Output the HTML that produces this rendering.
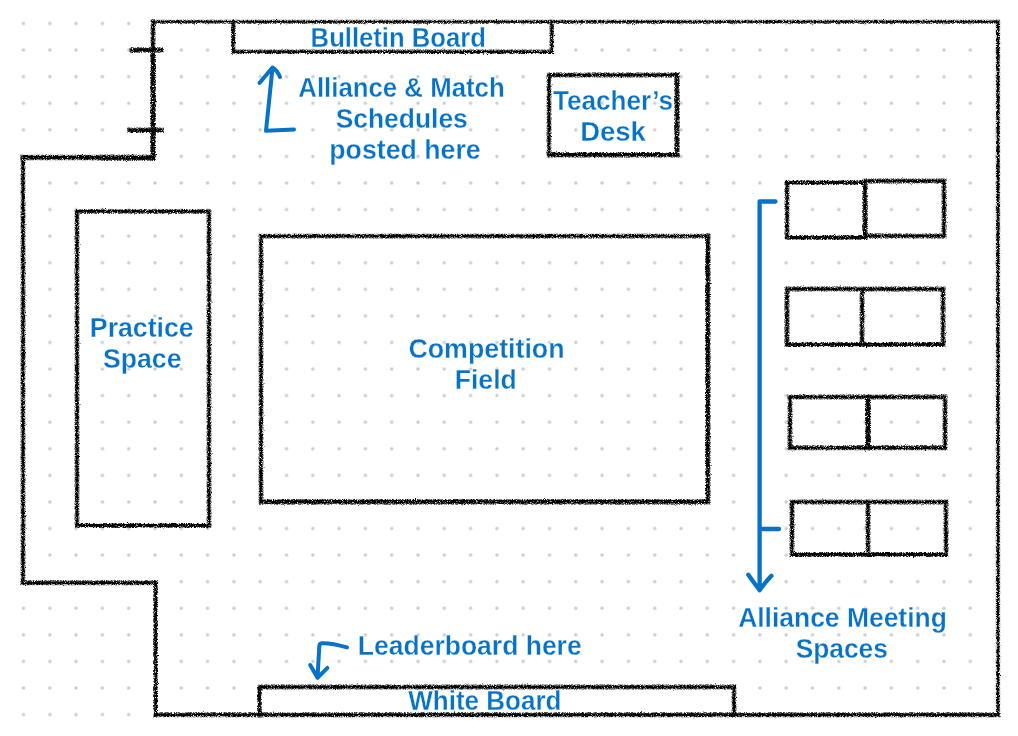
<!DOCTYPE html>
<html><head><meta charset="utf-8">
<style>
html,body{margin:0;padding:0;background:#fff;width:1018px;height:736px;overflow:hidden}
svg{display:block}
.t{font-family:"Liberation Sans",sans-serif;font-weight:bold;font-size:27.3px;fill:#0672c8;text-anchor:middle;stroke:#fff;stroke-width:0.3px}
</style></head><body>
<svg width="1018" height="736" viewBox="0 0 1018 736">
<defs>
<pattern id="dots" x="23.5" y="23.5" width="26.3" height="26.58" patternUnits="userSpaceOnUse">
<circle cx="0" cy="0" r="1.7" fill="#c9cbce"/><circle cx="26.3" cy="0" r="1.7" fill="#c9cbce"/><circle cx="0" cy="26.58" r="1.7" fill="#c9cbce"/><circle cx="26.3" cy="26.58" r="1.7" fill="#c9cbce"/>
</pattern>
<filter id="fuzz" x="0" y="0" width="1018" height="736" filterUnits="userSpaceOnUse">
<feTurbulence type="fractalNoise" baseFrequency="1.1" numOctaves="2" seed="11" result="n"/>
<feDisplacementMap in="SourceGraphic" in2="n" scale="2" xChannelSelector="R" yChannelSelector="G" result="d"/>
<feColorMatrix in="n" type="matrix" values="0 0 0 0 0 0 0 0 0 0 0 0 0 0 0 -4 0 0 0 2.5" result="m"/>
<feComposite in="d" in2="m" operator="in"/>
<feGaussianBlur stdDeviation="0.5"/>
</filter>
<filter id="core" x="0" y="0" width="1018" height="736" filterUnits="userSpaceOnUse">
<feTurbulence type="fractalNoise" baseFrequency="1.2" numOctaves="2" seed="5" result="n"/>
<feDisplacementMap in="SourceGraphic" in2="n" scale="1.2" xChannelSelector="R" yChannelSelector="G" result="d"/>
<feColorMatrix in="n" type="matrix" values="0 0 0 0 0 0 0 0 0 0 0 0 0 0 0 -5 0 0 0 3.7" result="m"/>
<feComposite in="d" in2="m" operator="in"/>
<feGaussianBlur stdDeviation="0.4"/>
</filter>
</defs>
<rect x="0" y="0" width="1018" height="736" fill="url(#dots)"/>
<g fill="none" stroke="#000" stroke-linejoin="miter" stroke-linecap="square" filter="url(#fuzz)">
<path d="M153,21.8 H998" stroke-width="3.90"/>
<path d="M998,21.8 V714.8" stroke-width="4.30"/>
<path d="M998,714.8 H155.6" stroke-width="5.00"/>
<path d="M155.6,714.8 V582.8" stroke-width="4.80"/>
<path d="M155.6,582.8 H23" stroke-width="5.00"/>
<path d="M23,582.8 V157.5" stroke-width="4.80"/>
<path d="M23,157.5 H153" stroke-width="5.40"/>
<path d="M100,157.8 H153" stroke-width="6.00"/>
<path d="M153,157.5 V21.8" stroke-width="5.00"/>
<path d="M153,50 V157.5" stroke-width="5.60"/>
<path d="M132,50 H161" stroke-width="5.60"/>
<path d="M130,130.3 H161" stroke-width="5.60"/>
<path d="M233.3,22 V51.8 H551.8 V22" stroke-width="4.60"/>
<path d="M549,75 H677 V154.7 H549 Z" stroke-width="4.80"/>
<path d="M549,154.7 H677 V75" stroke-width="5.40"/>
<path d="M77,211.3 H209 V525.5 H77 Z" stroke-width="4.80"/>
<path d="M261,236.2 H707.8 V501.8 H261 Z" stroke-width="4.80"/>
<path d="M707.8,236.2 V501.8 H261" stroke-width="5.40"/>
<path d="M787,182.5 H865 V237.4 H787 Z" stroke-width="5.00"/>
<path d="M865,181 H944 V236 H865 Z" stroke-width="5.00"/>
<path d="M787,289 H943 V344.5 H787 Z M862,289 V344.5" stroke-width="5.00"/>
<path d="M790,397 H945 V447.7 H790 Z M868,397 V447.7" stroke-width="5.00"/>
<path d="M868,397 V447.7" stroke-width="5.80"/>
<path d="M792,502 H946 V554.5 H792 Z M868,502 V554.5" stroke-width="5.00"/>
<path d="M259.4,715 V687 H734 V715" stroke-width="4.80"/>
</g>
<g fill="none" stroke="#000" stroke-linejoin="miter" stroke-linecap="square" filter="url(#core)">
<path d="M153,21.8 H998" stroke-width="1.90"/>
<path d="M998,21.8 V714.8" stroke-width="2.30"/>
<path d="M998,714.8 H155.6" stroke-width="3.00"/>
<path d="M155.6,714.8 V582.8" stroke-width="2.80"/>
<path d="M155.6,582.8 H23" stroke-width="3.00"/>
<path d="M23,582.8 V157.5" stroke-width="2.80"/>
<path d="M23,157.5 H153" stroke-width="3.40"/>
<path d="M100,157.8 H153" stroke-width="4.00"/>
<path d="M153,157.5 V21.8" stroke-width="3.00"/>
<path d="M153,50 V157.5" stroke-width="3.60"/>
<path d="M132,50 H161" stroke-width="3.60"/>
<path d="M130,130.3 H161" stroke-width="3.60"/>
<path d="M233.3,22 V51.8 H551.8 V22" stroke-width="2.60"/>
<path d="M549,75 H677 V154.7 H549 Z" stroke-width="2.80"/>
<path d="M549,154.7 H677 V75" stroke-width="3.40"/>
<path d="M77,211.3 H209 V525.5 H77 Z" stroke-width="2.80"/>
<path d="M261,236.2 H707.8 V501.8 H261 Z" stroke-width="2.80"/>
<path d="M707.8,236.2 V501.8 H261" stroke-width="3.40"/>
<path d="M787,182.5 H865 V237.4 H787 Z" stroke-width="3.00"/>
<path d="M865,181 H944 V236 H865 Z" stroke-width="3.00"/>
<path d="M787,289 H943 V344.5 H787 Z M862,289 V344.5" stroke-width="3.00"/>
<path d="M790,397 H945 V447.7 H790 Z M868,397 V447.7" stroke-width="3.00"/>
<path d="M868,397 V447.7" stroke-width="3.80"/>
<path d="M792,502 H946 V554.5 H792 Z M868,502 V554.5" stroke-width="3.00"/>
<path d="M259.4,715 V687 H734 V715" stroke-width="2.80"/>
</g>
<g fill="none" stroke="#0672c8" stroke-width="4.3" stroke-linejoin="round" stroke-linecap="round">
<path d="M775.5,201.5 H759.6 V590 M759.6,529 H779 M748.3,574.7 Q753.5,582 759.6,590.3 Q765,582.5 771.4,575.8"/>
<path stroke-width="4" d="M294,129.5 L266,130.8 L272.5,68 M259.5,83 L272.5,67.5 Q277,70 280,77"/>
<path stroke-width="4" d="M347,647.4 C337,644.5 328,643 322,643.2 Q319.5,643.4 319.3,646 L317.5,677.8 M310.2,665 L317.5,677.8 L327.4,667.8"/>
</g>
<g style="will-change:transform">
<text class="t" x="398.25" y="47.0" textLength="175.28" lengthAdjust="spacingAndGlyphs">Bulletin Board</text>
<text class="t" x="401.50" y="97.0" textLength="206.30" lengthAdjust="spacingAndGlyphs">Alliance &amp; Match</text>
<text class="t" x="401.75" y="128.0" textLength="132.07" lengthAdjust="spacingAndGlyphs">Schedules</text>
<text class="t" x="405.00" y="159.0" textLength="151.44" lengthAdjust="spacingAndGlyphs">posted here</text>
<text class="t" x="613.00" y="110.0" textLength="119.94" lengthAdjust="spacingAndGlyphs">Teacher’s</text>
<text class="t" x="613.00" y="141.0" textLength="65.69" lengthAdjust="spacingAndGlyphs">Desk</text>
<text class="t" x="141.75" y="337.1" textLength="103.77" lengthAdjust="spacingAndGlyphs">Practice</text>
<text class="t" x="142.25" y="368.1" textLength="78.59" lengthAdjust="spacingAndGlyphs">Space</text>
<text class="t" x="486.50" y="358.1" textLength="156.16" lengthAdjust="spacingAndGlyphs">Competition</text>
<text class="t" x="485.75" y="389.1" textLength="62.02" lengthAdjust="spacingAndGlyphs">Field</text>
<text class="t" x="842.50" y="627.0" textLength="208.69" lengthAdjust="spacingAndGlyphs">Alliance Meeting</text>
<text class="t" x="841.75" y="658.0" textLength="92.13" lengthAdjust="spacingAndGlyphs">Spaces</text>
<text class="t" x="469.75" y="655.1" textLength="223.89" lengthAdjust="spacingAndGlyphs">Leaderboard here</text>
<text class="t" x="484.88" y="710.0" textLength="153.23" lengthAdjust="spacingAndGlyphs">White Board</text>
</g>
</svg>
</body></html>
